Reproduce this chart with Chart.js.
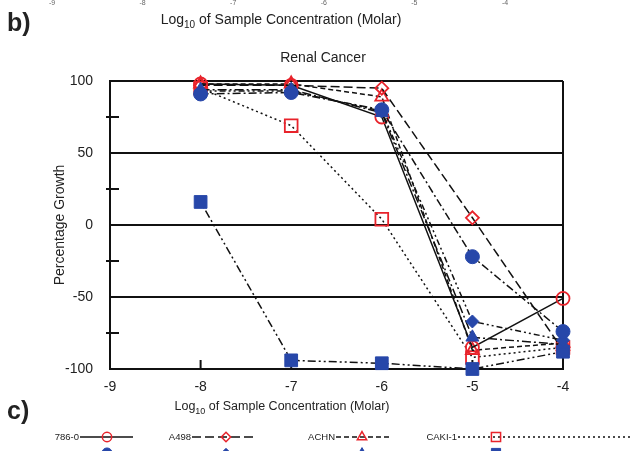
<!DOCTYPE html>
<html>
<head>
<meta charset="utf-8">
<script src="https://cdn.jsdelivr.net/npm/chart.js@4.4.1/dist/chart.umd.min.js"></script>
<style>
  html, body { margin: 0; padding: 0; background: #fff; }
  #wrap { width: 631px; height: 451px; }
</style>
</head>
<body>
<div id="wrap"><canvas id="renal" width="631" height="451"></canvas></div>
<script>
// log10 molar concentrations tested
const concentrations = [-8, -7, -6, -5, -4]

// percentage growth per cell line
const cellLines = ['786-0', 'A498', 'ACHN', 'CAKI-1', 'RXF 393', 'SN12C', 'TK-10', 'UO-31']
const growth7860 = [98, 97, 75, -85, -51]
const growthA498 = [97, 97, 95, 5, -87]
const growthACHN = [98, 98, 89, -87, -82]
const growthCAKI1 = [95, 69, 4, -92, -85]
const growthRXF393 = [91, 92, 80, -22, -74]
const growthSN12C = [93, 93, 79, -67, -80]
const growthTK10 = [94, 94, 78, -78, -83]
const growthUO31 = [16, -94, -96, -100, -88]

// axis ticks
const xTicks = [-9, -8, -7, -6, -5, -4]
const yMinorTicks = [75, 25, -25, -75]
const xInnerTicks = [-8, -7, -6, -5]
// tick labels of the panel above, cut off at the top edge
const prevPanelTicks = ['-9', '-8', '-7', '-6', '-5', '-4']

const FONT = 'Arial, "Liberation Sans", Helvetica, sans-serif'
const RED = '#e8232b'
const BLUE = '#2747a9'
const INK = '#111'

Chart.defaults.font.family = FONT

const allGrowth = [growth7860, growthA498, growthACHN, growthCAKI1, growthRXF393, growthSN12C, growthTK10, growthUO31]

const looks = [
  { color: RED, shape: 'circle', radius: 6.5, filled: false, dash: [] },
  { color: RED, shape: 'rectRot', radius: 6.5, filled: false, dash: [9, 4] },
  { color: RED, shape: 'triangle', radius: 7.5, filled: false, dash: [5, 3] },
  { color: RED, shape: 'rect', radius: 9, filled: false, dash: [2, 3] },
  { color: BLUE, shape: 'circle', radius: 7, filled: true, dash: [8, 3, 2, 3] },
  { color: BLUE, shape: 'rectRot', radius: 6.5, filled: true, dash: [6, 3, 2, 3, 2, 3] },
  { color: BLUE, shape: 'triangle', radius: 7.5, filled: true, dash: [9, 3, 2, 3] },
  { color: BLUE, shape: 'rect', radius: 9, filled: true, dash: [2, 3, 2, 3, 8, 3] },
]

const datasets = cellLines.map((name, i) => ({
  label: name,
  data: concentrations.map((c, j) => ({ x: c, y: allGrowth[i][j] })),
  showLine: true,
  borderColor: INK,
  borderWidth: 1.5,
  borderDash: looks[i].dash,
  pointStyle: looks[i].shape,
  pointRadius: looks[i].radius,
  pointBorderColor: looks[i].color,
  pointBackgroundColor: looks[i].filled ? looks[i].color : 'rgba(0,0,0,0)',
  pointBorderWidth: looks[i].filled ? 1 : 1.8,
  order: looks[i].filled ? 1 : 2,
  clip: false,
}))

function drawMarker(ctx, look, x, y, r) {
  ctx.save()
  ctx.setLineDash([])
  ctx.beginPath()
  if (look.shape === 'circle') {
    ctx.arc(x, y, r, 0, Math.PI * 2)
  } else if (look.shape === 'rectRot') {
    ctx.moveTo(x, y - r); ctx.lineTo(x + r, y); ctx.lineTo(x, y + r); ctx.lineTo(x - r, y)
  } else if (look.shape === 'triangle') {
    for (let k = 0; k < 3; k++) {
      const a = -Math.PI / 2 + k * 2 * Math.PI / 3
      k ? ctx.lineTo(x + r * Math.cos(a), y + r * Math.sin(a)) : ctx.moveTo(x + r * Math.cos(a), y + r * Math.sin(a))
    }
  } else {
    const s = r * Math.SQRT1_2
    ctx.rect(x - s, y - s, 2 * s, 2 * s)
  }
  ctx.closePath()
  if (look.filled) { ctx.fillStyle = look.color; ctx.fill() }
  ctx.lineWidth = look.filled ? 1 : 1.5
  ctx.strokeStyle = look.color
  ctx.stroke()
  ctx.restore()
}

function logTitle(ctx, cx, cy, size) {
  const rest = ' of Sample Concentration (Molar)'
  const big = `${size}px ${FONT}`
  const small = `${Math.round(size * 0.68)}px ${FONT}`
  ctx.font = big
  const w1 = ctx.measureText('Log').width
  const w3 = ctx.measureText(rest).width
  ctx.font = small
  const w2 = ctx.measureText('10').width
  let x = cx - (w1 + w2 + w3) / 2
  ctx.textAlign = 'left'
  ctx.textBaseline = 'middle'
  ctx.font = big
  ctx.fillText('Log', x, cy)
  x += w1
  ctx.font = small
  ctx.fillText('10', x, cy + size * 0.38)
  x += w2
  ctx.font = big
  ctx.fillText(rest, x, cy)
}

const legendSlots = [
  { text: 79, from: 80, to: 133, mark: 107 },
  { text: 191, from: 192, to: 253, mark: 226 },
  { text: 335, from: 336, to: 390, mark: 362 },
  { text: 457, from: 458, to: 631, mark: 496 },
]

const panelDecor = {
  id: 'panelDecor',
  beforeDatasetsDraw(chart) {
    const { ctx, scales: { x, y }, chartArea } = chart
    ctx.save()
    ctx.strokeStyle = INK
    ctx.lineWidth = 2
    yMinorTicks.forEach(v => {
      const py = y.getPixelForValue(v)
      ctx.beginPath(); ctx.moveTo(chartArea.left - 4, py); ctx.lineTo(chartArea.left + 9, py); ctx.stroke()
    })
    xInnerTicks.forEach(v => {
      const px = x.getPixelForValue(v)
      ctx.beginPath(); ctx.moveTo(px, chartArea.bottom); ctx.lineTo(px, chartArea.bottom - 9); ctx.stroke()
    })
    ctx.restore()
  },
  afterDraw(chart) {
    const { ctx } = chart
    ctx.save()

    // bits of the panel above
    ctx.font = `7px ${FONT}`
    ctx.fillStyle = '#666'
    ctx.textAlign = 'center'
    ctx.textBaseline = 'middle'
    prevPanelTicks.forEach((t, i) => ctx.fillText(t, 52 + i * 90.6, 3))
    ctx.fillStyle = '#222'
    logTitle(ctx, 281, 20, 14)

    ctx.font = `bold 25px ${FONT}`
    ctx.textAlign = 'left'
    ctx.textBaseline = 'alphabetic'
    ctx.fillText('b)', 7, 31)
    ctx.fillText('c)', 7, 419)

    ctx.font = `14px ${FONT}`
    ctx.textAlign = 'center'
    ctx.textBaseline = 'middle'
    ctx.fillText('Renal Cancer', 323, 58)

    logTitle(ctx, 282, 407, 12.5)

    // legend rows, the second one is cut off by the frame
    ctx.font = `9.5px ${FONT}`
    cellLines.forEach((name, i) => {
      const slot = legendSlots[i % 4]
      const ly = i < 4 ? 437 : 453
      ctx.fillStyle = '#222'
      ctx.textAlign = 'right'
      ctx.textBaseline = 'middle'
      ctx.fillText(name, slot.text, i < 4 ? ly : 462)
      ctx.save()
      ctx.strokeStyle = INK
      ctx.lineWidth = 1.5
      ctx.setLineDash(looks[i].dash)
      ctx.beginPath(); ctx.moveTo(slot.from, ly); ctx.lineTo(slot.to, ly); ctx.stroke()
      ctx.restore()
      drawMarker(ctx, looks[i], slot.mark, ly, looks[i].radius * 0.72)
    })
    ctx.restore()
  },
}

new Chart(document.getElementById('renal'), {
  type: 'scatter',
  data: { datasets },
  options: {
    responsive: false,
    animation: false,
    layout: { padding: { top: 81, right: 68, left: 0, bottom: 0 } },
    plugins: {
      legend: { display: false },
      tooltip: { enabled: false },
    },
    scales: {
      x: {
        type: 'linear',
        min: xTicks[0],
        max: xTicks[xTicks.length - 1],
        afterBuildTicks: s => { s.ticks = xTicks.map(v => ({ value: v })) },
        ticks: { color: '#222', font: { size: 14 }, padding: 10, maxRotation: 0 },
        grid: {
          drawTicks: false,
          lineWidth: 2,
          color: c => (c.tick && (c.tick.value === -9 || c.tick.value === -4)) ? INK : 'rgba(0,0,0,0)',
        },
        border: { display: true, color: INK, width: 2 },
        afterFit: s => { s.height = 82 },
      },
      y: {
        min: -100,
        max: 100,
        ticks: {
          stepSize: 25,
          color: '#222',
          font: { size: 14 },
          padding: 17,
          callback: v => (v % 50 === 0 ? v : ''),
        },
        grid: {
          drawTicks: false,
          lineWidth: 2,
          color: c => (c.tick && c.tick.value % 50 === 0) ? INK : 'rgba(0,0,0,0)',
        },
        border: { display: true, color: INK, width: 2 },
        title: {
          display: true,
          text: 'Percentage Growth',
          color: '#222',
          font: { size: 14 },
          padding: { top: 52, bottom: 0 },
        },
        afterFit: s => { s.width = 110 },
      },
    },
  },
  plugins: [panelDecor],
})
</script>
</body>
</html>
